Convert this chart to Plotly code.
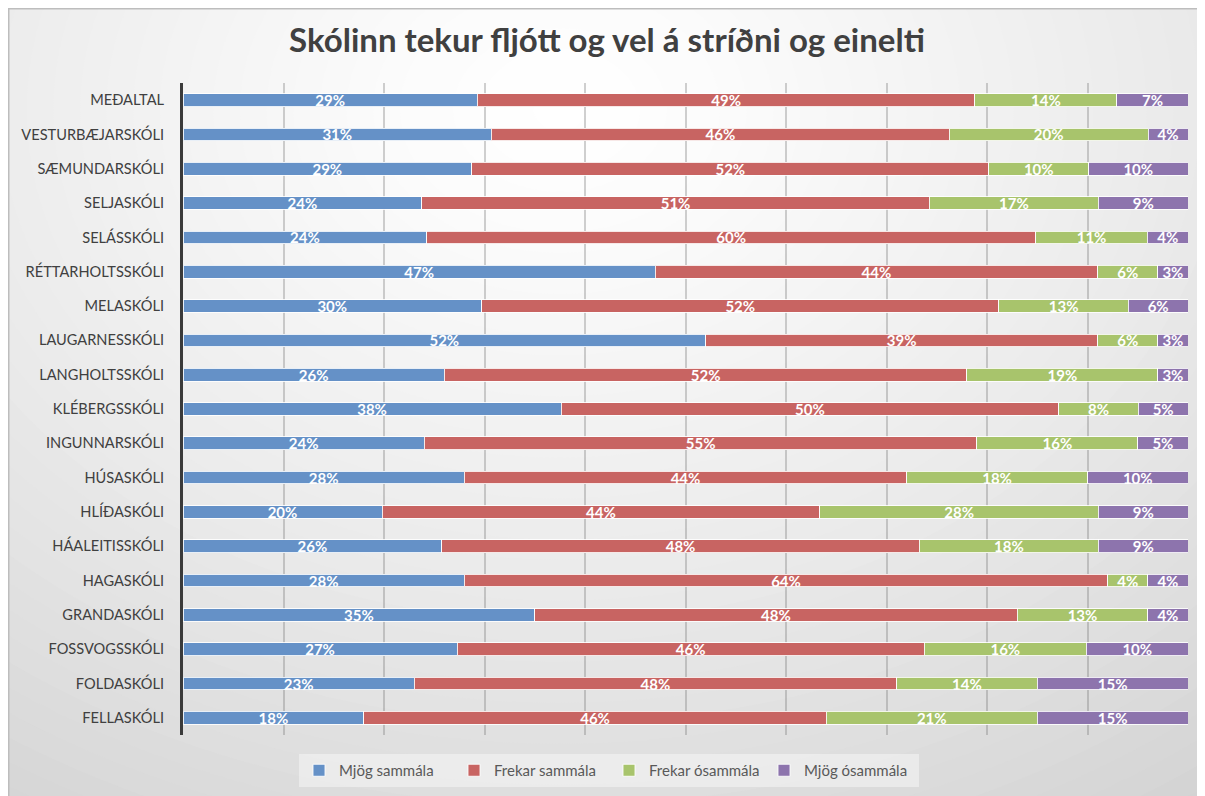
import plotly.graph_objects as go

categories = ["MEÐALTAL", "VESTURBÆJARSKÓLI", "SÆMUNDARSKÓLI", "SELJASKÓLI", "SELÁSSKÓLI",
              "RÉTTARHOLTSSKÓLI", "MELASKÓLI", "LAUGARNESSKÓLI", "LANGHOLTSSKÓLI", "KLÉBERGSSKÓLI",
              "INGUNNARSKÓLI", "HÚSASKÓLI", "HLÍÐASKÓLI", "HÁALEITISSKÓLI", "HAGASKÓLI",
              "GRANDASKÓLI", "FOSSVOGSSKÓLI", "FOLDASKÓLI", "FELLASKÓLI"]

mjog_sammala = [29, 31, 29, 24, 24, 47, 30, 52, 26, 38, 24, 28, 20, 26, 28, 35, 27, 23, 18]
frekar_sammala = [49, 46, 52, 51, 60, 44, 52, 39, 52, 50, 55, 44, 44, 48, 64, 48, 46, 48, 46]
frekar_osammala = [14, 20, 10, 17, 11, 6, 13, 6, 19, 8, 16, 18, 28, 18, 4, 13, 16, 14, 21]
mjog_osammala = [7, 4, 10, 9, 4, 3, 6, 3, 3, 5, 5, 10, 9, 9, 4, 4, 10, 15, 15]

series_names = ["Mjög sammála", "Frekar sammála", "Frekar ósammála", "Mjög ósammála"]
series_values = [mjog_sammala, frekar_sammala, frekar_osammala, mjog_osammala]
colors = ["#6591c7", "#c86462", "#a8c46c", "#8d74ad"]

title_text = "Skólinn tekur fljótt og vel á stríðni og einelti"

# page body has an 8px margin; work in screen pixels and convert
OFF = 8
SW, SH = 1205, 796
W, H = SW - OFF, SH - OFF
PL, PR, PT, PB = 183, 1188, 83, 735  # plot area in screen pixels
L, R, T, B = PL - OFF, SW - PR, PT - OFF, SH - PB
PW, PH = PR - PL, PB - PT


def px2paper_x(px):
    return (px - PL) / PW


def px2paper_y(py):
    return (PB - py) / PH


fig = go.Figure()
for name, vals, col in zip(series_names, series_values, colors):
    fig.add_trace(go.Bar(
        y=categories, x=vals, name=name, orientation="h",
        marker=dict(color=col, line=dict(color="rgba(255,255,255,0.85)", width=1)),
        text=vals, texttemplate="%{text}%", textposition="inside",
        insidetextanchor="middle", textangle=0,
        textfont=dict(family="Lato", size=15, color="white", weight="bold"),
        hoverinfo="skip",
    ))

# background radial gradient (decorative)
shapes = []
cx, cy = 560, 110
N = 45
for i in range(N, 0, -1):
    t = i / N
    g = int(round(255 - 48 * (t ** 1.3)))
    rx, ry = 1200 * t, 920 * t
    shapes.append(dict(
        type="circle", xref="paper", yref="paper", layer="below",
        x0=px2paper_x(cx - rx), x1=px2paper_x(cx + rx),
        y0=px2paper_y(cy + ry), y1=px2paper_y(cy - ry),
        fillcolor=f"rgb({g},{g},{g})", line=dict(width=0),
    ))
# outer border (top/left visible)
shapes.append(dict(
    type="rect", xref="paper", yref="paper", layer="below",
    x0=px2paper_x(OFF + 0.75), x1=px2paper_x(1240), y0=px2paper_y(840), y1=px2paper_y(OFF + 0.75),
    fillcolor="rgba(0,0,0,0)", line=dict(color="#bdbdbd", width=1.5),
))

fig.update_layout(
    width=W, height=H,
    margin=dict(l=L, r=R, t=T, b=B, pad=0, autoexpand=False),
    barmode="stack", barnorm="percent", bargap=0.63,
    paper_bgcolor="#e0e0e0", plot_bgcolor="rgba(0,0,0,0)",
    shapes=shapes,
    title=dict(text=title_text, x=(607 - OFF) / W, xref="container", xanchor="center",
               y=1 - (40 - OFF) / H, yref="container", yanchor="middle",
               font=dict(family="Lato", size=33, color="#404040", weight="bold")),
    uniformtext=dict(minsize=15, mode="show"),
    legend=dict(orientation="h", x=px2paper_x(609), xanchor="center",
                y=px2paper_y(754), yanchor="top", traceorder="normal",
                bgcolor="rgba(245,245,245,0.55)", itemwidth=30, entrywidth=110,
                font=dict(family="Lato", size=15, color="#595959")),
    xaxis=dict(range=[0, 100], dtick=10, showgrid=True, gridcolor="rgba(120,120,120,0.35)",
               gridwidth=2, showticklabels=False, zeroline=False, showline=False,
               fixedrange=True, automargin=False),
    yaxis=dict(categoryorder="array", categoryarray=categories, autorange="reversed",
               showline=True, linecolor="#3a3a3a", linewidth=3, showgrid=False,
               ticks="", ticklabelstandoff=13, automargin=False,
               tickfont=dict(family="Lato", size=14.6, color="#404040")),
    font=dict(family="Lato"),
)

fig.write_html("out.html")
